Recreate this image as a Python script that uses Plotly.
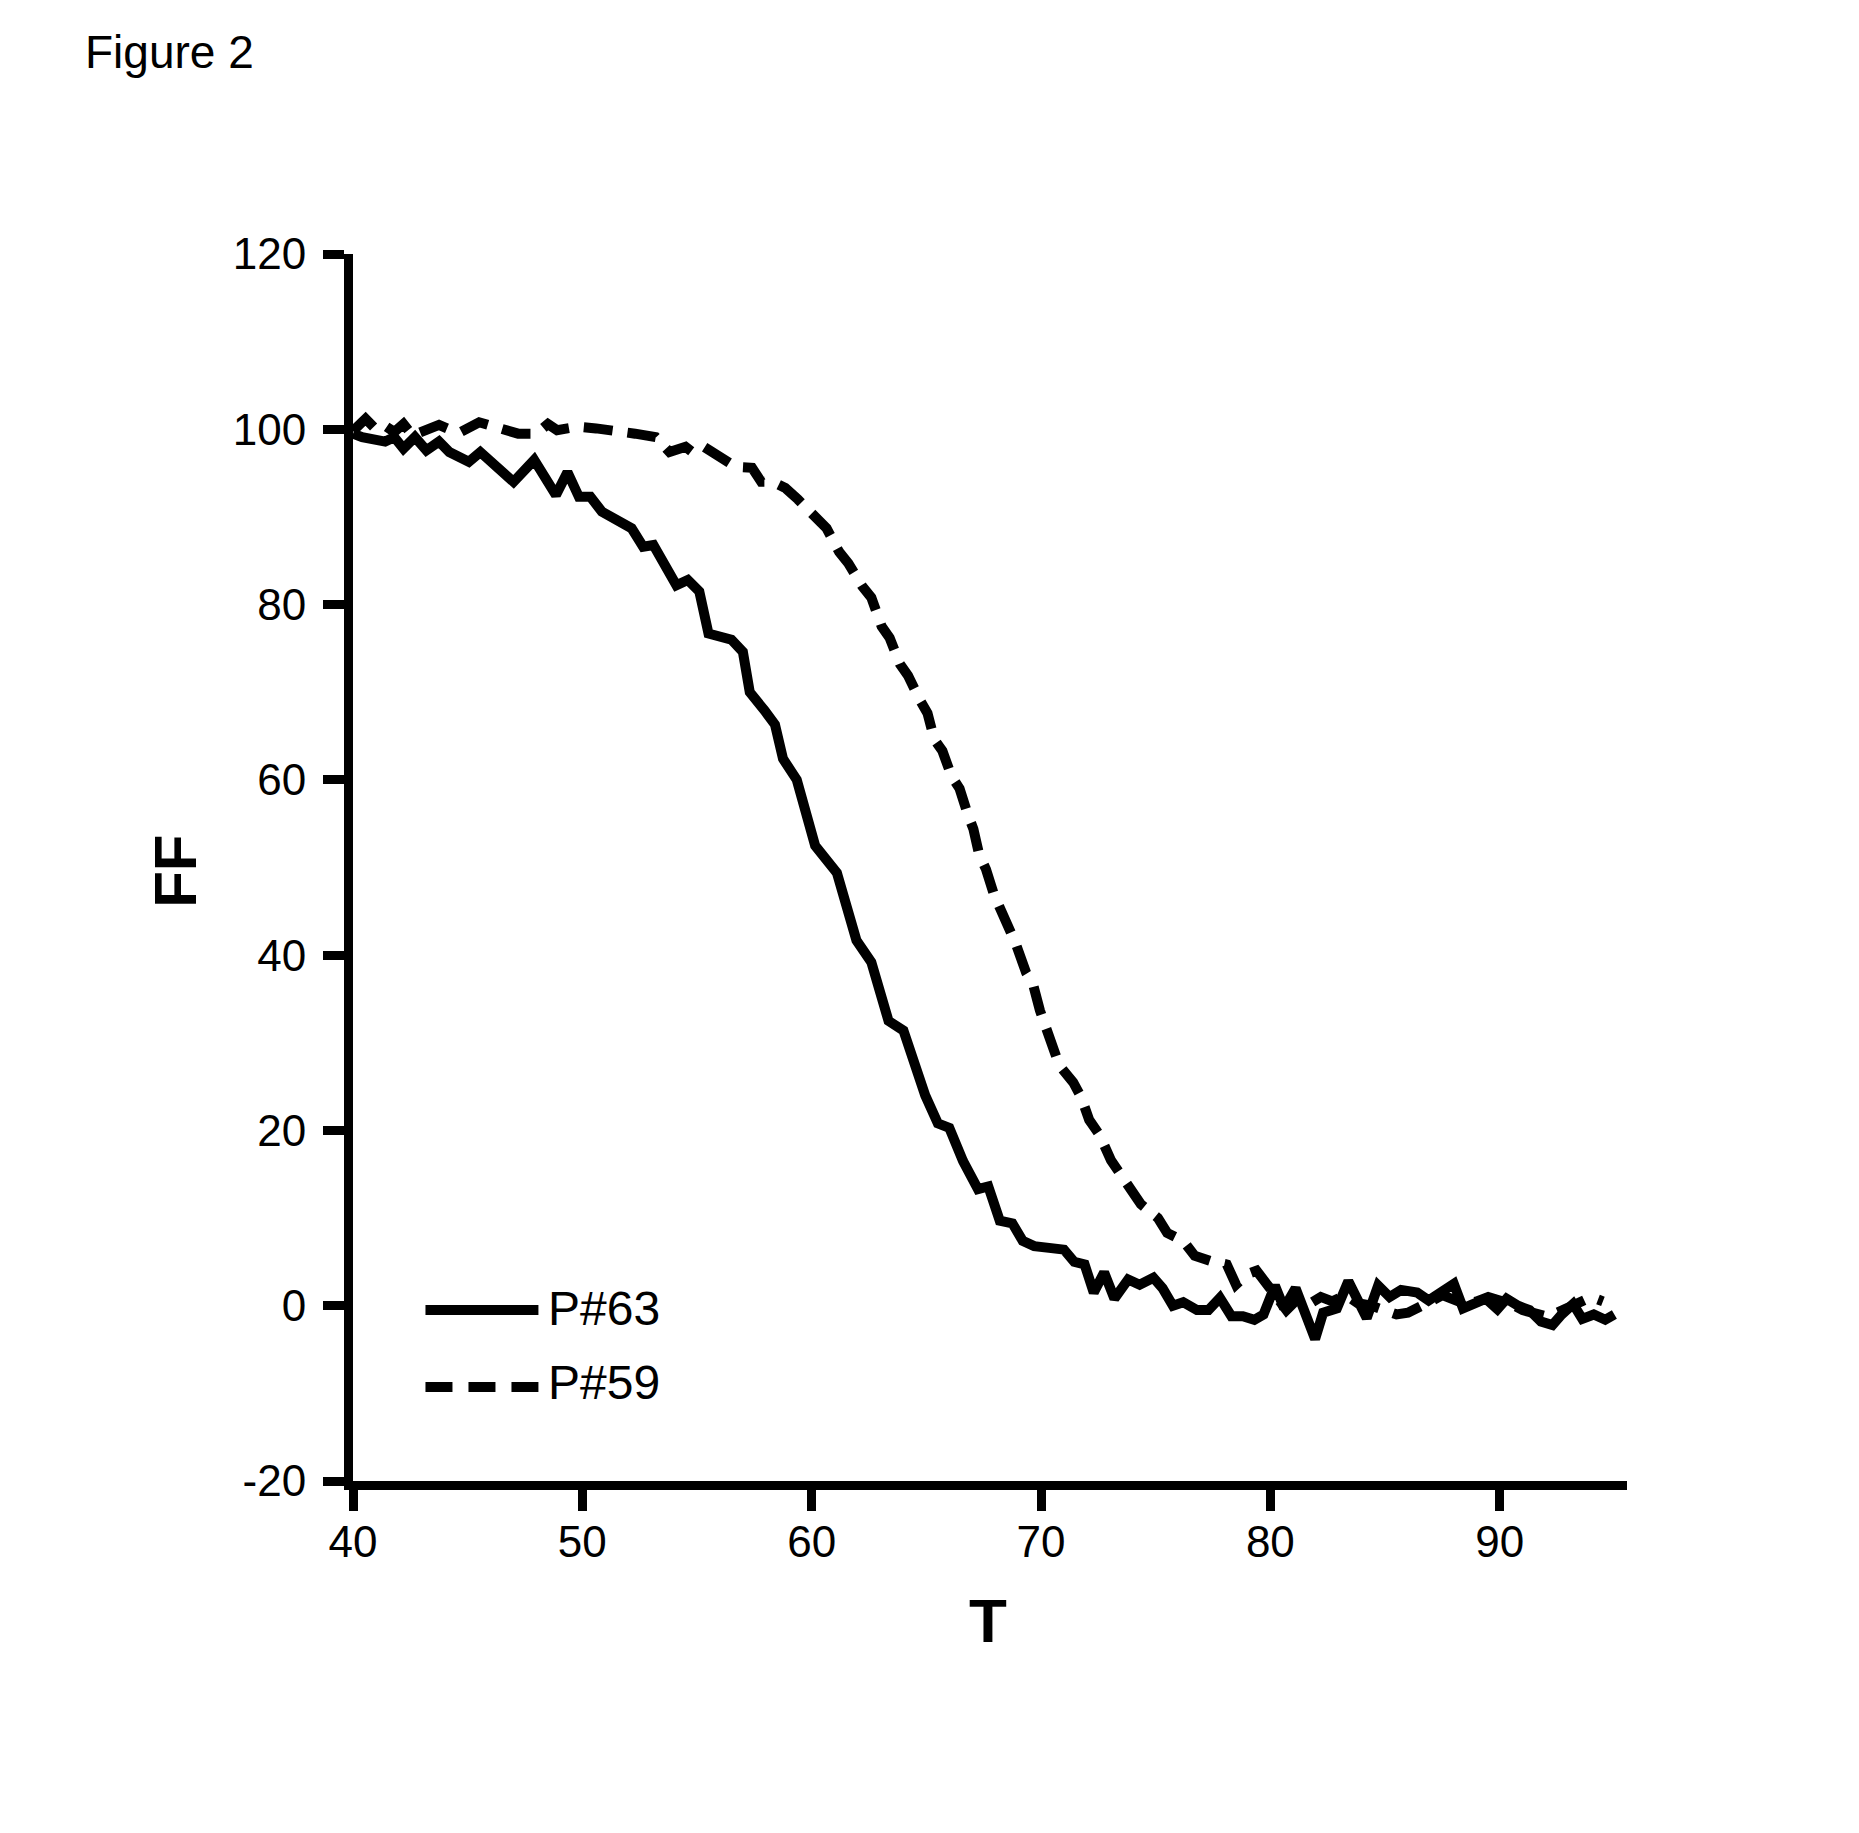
import plotly.graph_objects as go

# ---------------- data ----------------
p63_T = [40.0, 40.4, 41.4, 41.8, 42.2, 42.7, 43.2, 43.75, 44.2, 44.6,
         45.05, 45.55, 46.15, 47.0, 47.9, 48.85, 49.35, 49.85, 50.35, 50.85,
         52.15, 52.65, 53.1, 53.7, 54.1, 54.6, 55.1, 55.5, 56.5, 57.0,
         57.3, 57.95, 58.4, 58.75, 59.35, 60.15, 61.1, 61.95, 62.6, 63.35,
         64.0, 64.95, 65.5, 66.0, 66.6, 67.25, 67.7, 68.2, 68.75, 69.2,
         69.7, 70.35, 71.0, 71.45, 71.9, 72.3, 72.75, 73.2, 73.8, 74.3,
         74.9, 75.3, 75.75, 76.2, 76.8, 77.3, 77.8, 78.3, 78.8, 79.3,
         79.7, 80.2, 80.6, 81.1, 81.5, 81.95, 82.3, 82.9, 83.4, 83.8,
         84.2, 84.7, 85.2, 85.7, 86.4, 86.9, 87.4, 88.0, 88.4, 88.9,
         89.4, 89.9, 90.3, 90.8, 91.3, 91.8, 92.3, 92.7, 93.2, 93.6,
         94.1, 94.6, 95.0]
p63_FF = [99.5, 99.1, 98.6, 99.1, 97.8, 99.1, 97.6, 98.6, 97.4, 97.0,
          96.3, 97.4, 96.1, 94.0, 96.5, 92.5, 95.1, 92.3, 92.3, 90.6,
          88.7, 86.6, 86.8, 83.7, 82.2, 82.8, 81.5, 76.7, 76.0, 74.6,
          70.0, 67.9, 66.3, 62.4, 60.0, 52.5, 49.4, 41.7, 39.2, 32.5,
          31.4, 24.0, 20.8, 20.3, 16.5, 13.3, 13.6, 9.7, 9.4, 7.4,
          6.8, 6.6, 6.4, 5.0, 4.7, 1.5, 3.8, 0.8, 3.0, 2.4,
          3.2, 2.0, 0.0, 0.4, -0.5, -0.5, 0.9, -1.2, -1.2, -1.6,
          -1.0, 2.3, -0.3, 2.0, -0.8, -3.8, -0.8, -0.3, 2.8, 0.5,
          -1.4, 2.3, 1.0, 1.8, 1.5, 0.6, 1.4, 2.5, -0.3, 0.4,
          0.8, -0.4, 0.8, 0.0, -0.5, -1.8, -2.2, -1.0, 0.2, -1.5,
          -1.0, -1.6, -1.0]

p59_T = [40.0, 40.55, 41.0, 41.4, 41.8, 42.2, 42.6, 43.0, 43.75, 44.2,
         44.7, 45.5, 46.3, 47.2, 48.0, 48.5, 48.9, 49.8, 50.6, 51.4,
         52.3, 53.2, 53.8, 54.5, 54.8, 55.3, 56.0, 56.7, 57.4, 57.8,
         58.3, 58.85, 59.4, 60.15, 60.65, 61.2, 61.6, 62.2, 62.6, 63.05,
         63.4, 63.85, 64.2, 64.7, 65.05, 65.35, 65.7, 66.1, 66.45, 66.8,
         67.05, 67.3, 67.6, 67.95, 68.2, 68.7, 68.9, 69.35, 69.65, 69.95,
         70.2, 70.6, 70.8, 71.4, 71.75, 72.1, 72.55, 73.05, 73.4, 73.9,
         74.35, 75.1, 75.5, 76.2, 76.7, 77.4, 78.1, 78.5, 79.0, 79.4,
         79.8, 80.2, 80.7, 81.2, 81.7, 82.2, 82.7, 83.3, 83.8, 84.4,
         85.0, 85.5, 86.0, 86.5, 87.0, 87.5, 88.0, 88.5, 89.0, 89.5,
         90.0, 90.5, 91.0, 91.5, 92.0, 92.5, 93.0, 93.5, 94.0, 94.5]
p59_FF = [99.8, 101.2, 100.0, 100.4, 99.7, 100.6, 99.3, 99.7, 100.5, 100.0,
          99.7, 100.8, 100.1, 99.5, 99.5, 100.6, 99.9, 100.3, 100.1, 99.7,
          99.5, 99.1, 97.4, 98.0, 97.4, 98.0, 97.0, 95.7, 95.6, 94.0,
          94.0, 93.3, 92.0, 90.0, 88.7, 86.0, 84.7, 82.1, 80.8, 77.5,
          76.2, 73.2, 71.9, 69.2, 67.6, 64.6, 63.3, 60.4, 59.0, 56.1,
          54.4, 51.5, 49.8, 46.9, 45.5, 42.7, 41.3, 38.0, 36.7, 33.7,
          32.0, 29.4, 27.4, 25.5, 23.8, 21.2, 19.5, 16.6, 15.3, 13.0,
          11.6, 10.0, 8.3, 7.4, 5.7, 5.1, 4.7, 2.4, 3.6, 4.0,
          2.5, 1.0, -0.5, 0.8, 0.2, 1.0, 0.5, 1.2, 0.3, 0.0,
          -0.5, -1.0, -0.8, -0.3, 0.5, 1.2, 0.8, 0.2, 0.5, 1.0,
          0.6, 0.2, -0.5, -1.0, -1.2, -0.8, -0.2, 0.5, 1.0, 0.5]

series_names = ["P#63", "P#59"]
x_ticks = [40, 50, 60, 70, 80, 90]
y_ticks = [-20, 0, 20, 40, 60, 80, 100, 120]
y_ticktext = ["-20", "0", "20", "40", "60", "80", "100", "120"]
x_title = "T"
y_title = "FF"
fig_title = "Figure 2"

# ---------------- layout geometry (pixels) ----------------
W, H = 1859, 1833
L, R, T, B = 352.5, 232, 253.5, 352
PW = W - L - R
PH = H - T - B


def px(x):
    return (x - L) / PW


def py(y):
    return (H - B - y) / PH


FONT = "Arial, 'Liberation Sans', Helvetica, sans-serif"

fig = go.Figure()
fig.add_trace(go.Scatter(x=p63_T, y=p63_FF, mode="lines", name=series_names[0],
                         line=dict(color="black", width=10), showlegend=False))
fig.add_trace(go.Scatter(x=p59_T, y=p59_FF, mode="lines", name=series_names[1],
                         line=dict(color="black", width=10, dash="29px,15px"),
                         showlegend=False))

axis_common = dict(showline=True, linewidth=9, linecolor="black", ticks="outside",
                   ticklen=21, tickwidth=9, tickcolor="black", showgrid=False,
                   zeroline=False, tickfont=dict(family=FONT, size=44, color="black"))

fig.update_xaxes(range=[40, 95.55], tickvals=x_ticks, ticklabelstandoff=-7, **axis_common)
fig.update_yaxes(range=[-20, 120], tickvals=y_ticks, ticktext=y_ticktext,
                 ticklabelstandoff=8, **axis_common)

# legend key drawn as shapes + text
fig.add_shape(type="line", xref="paper", yref="paper", x0=px(425), x1=px(538),
              y0=py(1310), y1=py(1310), line=dict(color="black", width=10))
fig.add_shape(type="line", xref="paper", yref="paper", x0=px(425), x1=px(538),
              y0=py(1387), y1=py(1387), line=dict(color="black", width=10, dash="27px,16px"))

annotations = [
    dict(text=series_names[0], x=px(546), y=py(1308), xanchor="left", yanchor="middle",
         font=dict(family=FONT, size=48, color="black")),
    dict(text=series_names[1], x=px(546), y=py(1382), xanchor="left", yanchor="middle",
         font=dict(family=FONT, size=48, color="black")),
    dict(text="<b>%s</b>" % x_title, x=px(988), y=py(1621), xanchor="center", yanchor="middle",
         font=dict(family=FONT, size=62, color="black")),
    dict(text="<b>%s</b>" % y_title, x=px(175), y=py(871), xanchor="center", yanchor="middle",
         textangle=-90, font=dict(family=FONT, size=60, color="black")),
    dict(text=fig_title, x=px(82), y=py(51), xanchor="left", yanchor="middle",
         font=dict(family=FONT, size=46, color="black")),
]
for a in annotations:
    a.update(xref="paper", yref="paper", showarrow=False)
fig.update_layout(annotations=annotations)

fig.update_layout(width=W, height=H, margin=dict(l=L, r=R, t=T, b=B, pad=0),
                  plot_bgcolor="white", paper_bgcolor="white", showlegend=False,
                  font=dict(family=FONT, color="black"))

fig.write_html("out.html")
